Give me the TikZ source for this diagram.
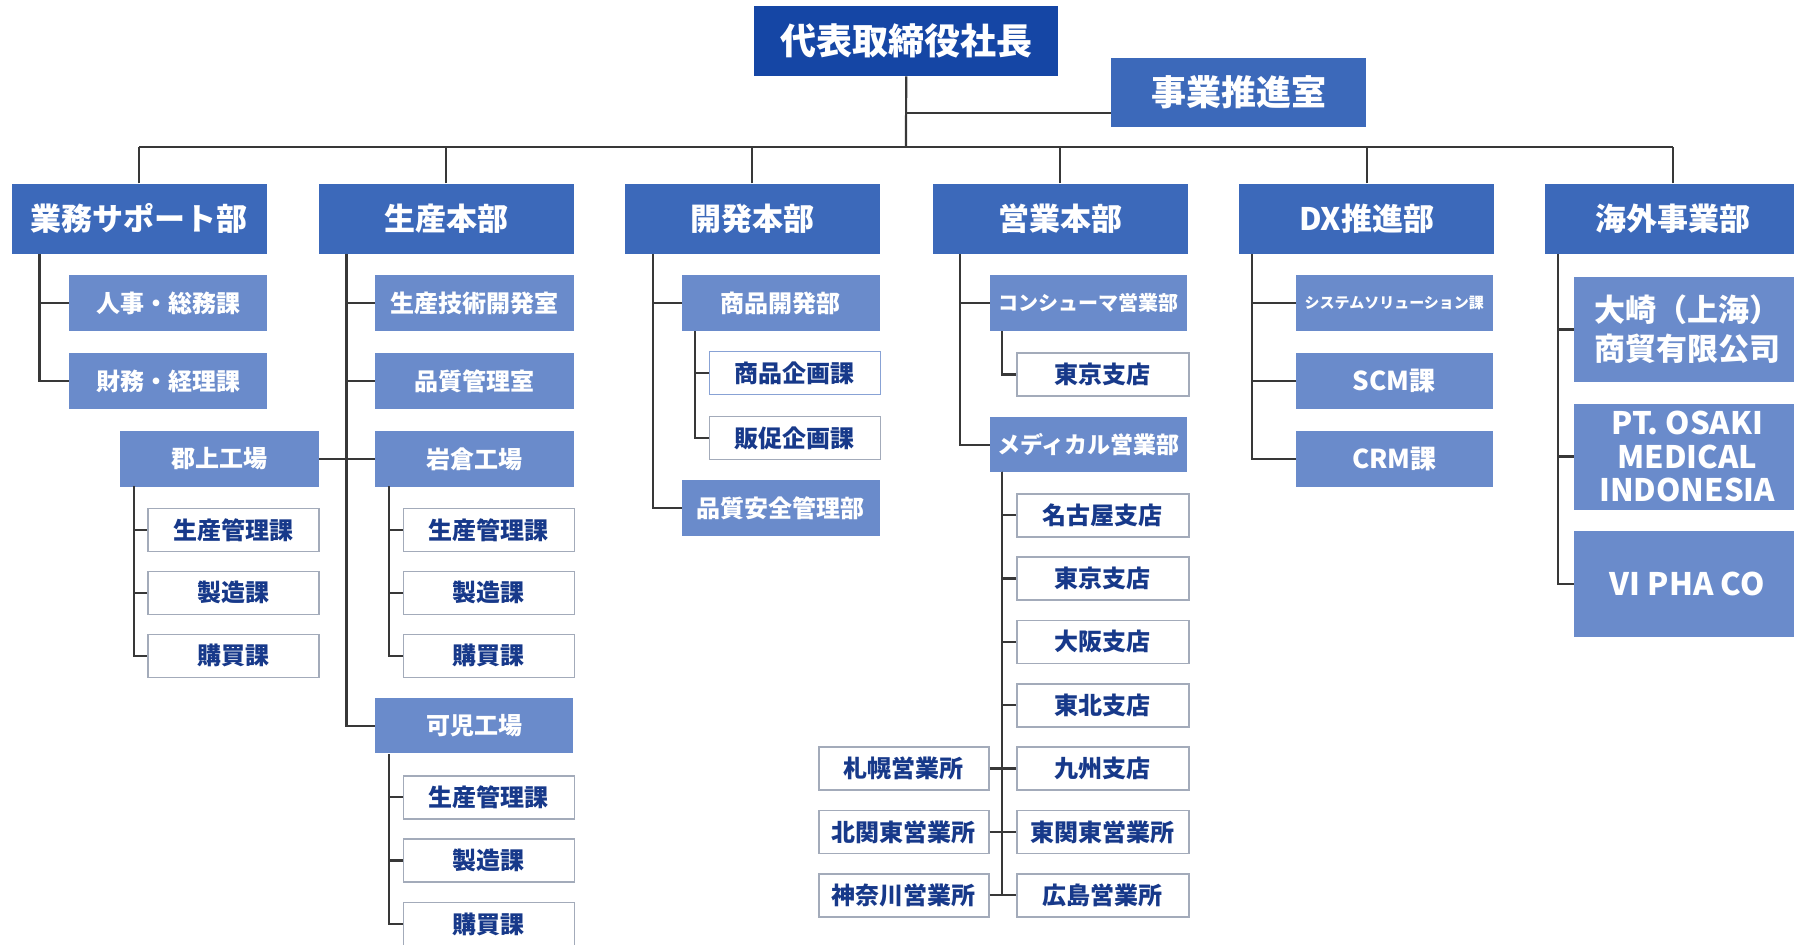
\documentclass[tikz,border=0pt]{standalone}
\usepackage{fontspec}
\setmainfont{Noto Sans CJK JP}
\definecolor{ceoC}{HTML}{1546A5}
\definecolor{deptC}{HTML}{3C69BA}
\definecolor{subC}{HTML}{6A8BCB}
\definecolor{navy}{HTML}{17398A}
\definecolor{edgeC}{HTML}{A3ABBA}
\definecolor{lineC}{HTML}{383838}
\newcommand{\fs}[1]{\fontsize{#1}{#1}\selectfont}
\tikzset{
  box/.style={anchor=north west, inner sep=0pt, align=center},
  ceobox/.style={box, fill=ceoC, text=white, font=\bfseries\fs{36}},
  dept/.style={box, fill=deptC, text=white, minimum width=255pt, minimum height=70.7pt, font=\bfseries\fs{31}},
  subbox/.style={box, fill=subC, text=white, minimum width=198pt, minimum height=55.5pt, font=\bfseries\fs{24}},
  wbox/.style={box, fill=white, draw=edgeC, line width=1.5pt, text=navy, minimum width=171pt, minimum height=43pt, font=\bfseries\fs{24}},
  conn/.style={draw=lineC, line width=2.2pt},
}
\begin{document}
\begin{tikzpicture}[x=1pt,y=-1pt]
\useasboundingbox (0,0) rectangle (1794,945);
\clip (0,0) rectangle (1794,945);
\fill[white] (0,0) rectangle (1794,945);

% top
\node[ceobox, minimum width=304pt, minimum height=70pt] (ceo) at (754,6) {代表取締役社長};
\node[dept, minimum height=69.3pt, font=\bfseries\fs{35}] (jigyo) at (1111,57.7) {事業推進室};

% departments
\node[dept] (gyomu) at (11.5,183.3) {業務サポート部};
\node[dept] (seisan) at (318.6,183.3) {生産本部};
\node[dept] (kaihatsu) at (624.5,183.3) {開発本部};
\node[dept] (eigyo) at (932.5,183.3) {営業本部};
\node[dept] (dx) at (1239,183.3) {DX推進部};
\node[dept] (kaigai) at (1545,183.3) {海外事業部};

% bus
\coordinate (bus) at (906,147);
\draw[conn] (ceo.south) -- (bus);
\coordinate (jc) at (906,112.7);
\draw[conn] (jc) -- (jc -| jigyo.west);
\draw[conn] (gyomu.north |- bus) -- (kaigai.north |- bus);
\foreach \n in {gyomu,seisan,kaihatsu,eigyo,dx,kaigai}
  \draw[conn] (\n.north) -- (\n.north |- bus);

% 業務サポート部
\node[subbox] (jinji) at (69,275) {人事・総務課};
\node[subbox] (zaimu) at (69,353) {財務・経理課};
\coordinate (tg) at (39.4,254);
\draw[conn] (tg) |- (jinji.west);
\draw[conn] (tg) |- (zaimu.west);

% 生産本部
\node[subbox, minimum width=199pt] (gitsu) at (375,275) {生産技術開発室};
\node[subbox, minimum width=199pt] (hinkan) at (375,353) {品質管理室};
\node[subbox, minimum width=198.6pt] (gujo) at (119.8,431) {郡上工場};
\node[subbox, minimum width=199pt] (iwakura) at (375,431) {岩倉工場};
\node[subbox] (kani) at (375,697.7) {可児工場};
\coordinate (ts) at (346.5,254);
\draw[conn] (ts) |- (gitsu.west);
\draw[conn] (ts) |- (hinkan.west);
\draw[conn] (ts) |- (kani.west);
\draw[conn] (gujo.east) -- (iwakura.west);

\node[wbox] (g1) at (147.3,507.7) {生産管理課};
\node[wbox] (g2) at (147.3,570.5) {製造課};
\node[wbox] (g3) at (147.3,633.5) {購買課};
\coordinate (tgj) at (134,486);
\foreach \n in {g1,g2,g3} \draw[conn] (tgj) |- (\n.west);

\node[wbox] (i1) at (402.6,507.7) {生産管理課};
\node[wbox] (i2) at (402.6,570.5) {製造課};
\node[wbox] (i3) at (402.6,633.5) {購買課};
\coordinate (tiw) at (389,486);
\foreach \n in {i1,i2,i3} \draw[conn] (tiw) |- (\n.west);

\node[wbox] (k1) at (402.6,775) {生産管理課};
\node[wbox] (k2) at (402.6,838.3) {製造課};
\node[wbox] (k3) at (402.6,901.7) {購買課};
\coordinate (tka) at (389,754);
\foreach \n in {k1,k2,k3} \draw[conn] (tka) |- (\n.west);

% 開発本部
\node[subbox] (shohin) at (681.5,275) {商品開発部};
\node[wbox, draw=subC!80] (kikaku) at (708.7,350.7) {商品企画課};
\node[wbox] (hansoku) at (708.7,415.7) {販促企画課};
\node[subbox] (hinan) at (681.5,480) {品質安全管理部};
\coordinate (tk) at (652.8,254);
\draw[conn] (tk) |- (shohin.west);
\draw[conn] (tk) |- (hinan.west);
\coordinate (tsh) at (695,331);
\draw[conn] (tsh) |- (kikaku.west);
\draw[conn] (tsh) |- (hansoku.west);

% 営業本部
\node[subbox, minimum width=197.4pt, font=\bfseries\fs{20}] (consumer) at (989.6,275) {コンシューマ営業部};
\node[wbox, minimum width=172pt] (tokyoA) at (1016,352.3) {東京支店};
\node[subbox, minimum width=197.4pt, font=\bfseries\fs{23}] (medical) at (989.6,416.7) {メディカル営業部};
\coordinate (te) at (960,254);
\draw[conn] (te) |- (consumer.west);
\draw[conn] (te) |- (medical.west);
\coordinate (tc) at (1001.8,331);
\draw[conn] (tc) |- (tokyoA.west);

\node[wbox, minimum width=172pt] (m1) at (1016,493) {名古屋支店};
\node[wbox, minimum width=172pt] (m2) at (1016,556.3) {東京支店};
\node[wbox, minimum width=172pt] (m3) at (1016,619.6) {大阪支店};
\node[wbox, minimum width=172pt] (m4) at (1016,683) {東北支店};
\node[wbox, minimum width=172pt] (m5) at (1016,746.3) {九州支店};
\node[wbox, minimum width=172pt] (m6) at (1016,809.6) {東関東営業所};
\node[wbox, minimum width=172pt] (m7) at (1016,873) {広島営業所};
\node[wbox, minimum width=170pt] (l5) at (818,746.3) {札幌営業所};
\node[wbox, minimum width=170pt] (l6) at (818,809.6) {北関東営業所};
\node[wbox, minimum width=170pt] (l7) at (818,873) {神奈川営業所};
\coordinate (tm) at (1001.8,471.7);
\foreach \n in {m1,m2,m3,m4,m5,m6,m7} \draw[conn] (tm) |- (\n.west);
\draw[conn] (l5.east) -- (m5.west);
\draw[conn] (l6.east) -- (m6.west);
\draw[conn] (l7.east) -- (m7.west);

% DX推進部
\node[subbox, minimum width=197.3pt, font=\bfseries\fs{15}] (sys) at (1295.5,275) {システムソリューション課};
\node[subbox, minimum width=197.3pt, font=\bfseries\fs{26}] (scm) at (1295.5,353) {SCM課};
\node[subbox, minimum width=197.3pt, font=\bfseries\fs{26}] (crm) at (1295.5,431) {CRM課};
\coordinate (td) at (1252,254);
\foreach \n in {sys,scm,crm} \draw[conn] (td) |- (\n.west);

% 海外事業部
\node[subbox, minimum width=226pt, minimum height=105pt, font=\bfseries\fontsize{31}{39}\selectfont] (osakiSH) at (1574,276.7) {大崎（上海）\\商貿有限公司};
\node[subbox, minimum width=226pt, minimum height=106pt, font=\bfseries\fontsize{31}{33.5}\selectfont] (ptosaki) at (1574,403.3) {PT. OSAKI\\MEDICAL\\INDONESIA};
\node[subbox, minimum width=226pt, minimum height=105.7pt, font=\bfseries\fs{31}] (vipha) at (1574,531) {VI PHA CO};
\coordinate (tov) at (1558,254);
\foreach \n in {osakiSH,ptosaki,vipha} \draw[conn] (tov) |- (\n.west);
\end{tikzpicture}
\end{document}
